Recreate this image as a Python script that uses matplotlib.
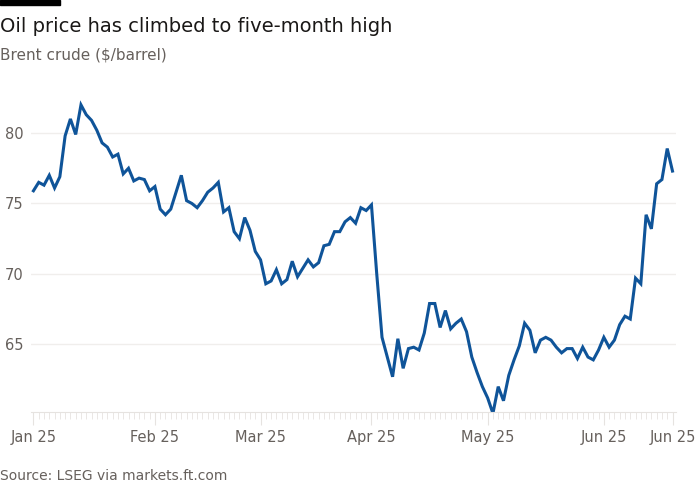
import numpy as np
import pandas as pd
import matplotlib.pyplot as plt

# Brent crude, $/barrel, one value per business day from 1 Jan 2025
brent = [
    75.9, 76.5, 76.3, 77.0, 76.1, 76.9, 79.8, 81.0, 79.9, 82.0,
    81.3, 80.9, 80.2, 79.3, 79.0, 78.3, 78.5, 77.1, 77.5, 76.6,
    76.8, 76.7, 75.9, 76.2, 74.6, 74.2, 74.6, 75.8, 77.0, 75.2,
    75.0, 74.7, 75.2, 75.8, 76.1, 76.5, 74.4, 74.7, 73.0, 72.5,
    74.0, 73.1, 71.6, 71.0, 69.3, 69.5, 70.3, 69.3, 69.6, 70.9,
    69.8, 70.4, 71.0, 70.5, 70.8, 72.0, 72.1, 73.0, 73.0, 73.7,
    74.0, 73.6, 74.7, 74.5, 74.9, 70.0, 65.5, 64.1, 62.7, 65.4,
    63.3, 64.7, 64.8, 64.6, 65.8, 67.9, 67.9, 66.2, 67.4, 66.1,
    66.5, 66.8, 65.9, 64.1, 63.0, 62.0, 61.2, 60.1, 62.0, 61.0,
    62.8, 63.9, 64.9, 66.5, 66.0, 64.4, 65.3, 65.5, 65.3, 64.8,
    64.4, 64.7, 64.7, 64.0, 64.8, 64.1, 63.9, 64.6, 65.5, 64.8,
    65.3, 66.4, 67.0, 66.8, 69.7, 69.3, 74.2, 73.2, 76.4, 76.7,
    78.9, 77.3,
]
y_ticks = [65, 70, 75, 80]

dates = pd.bdate_range("2025-01-01", periods=len(brent))
x = np.arange(len(brent))

# ticks at the first trading day of each month, plus the last day
month_idx = [i for i in range(len(dates)) if i == 0 or dates[i].month != dates[i - 1].month]
tick_idx = month_idx + [len(dates) - 1]
tick_labels = [dates[i].strftime("%b %y") for i in tick_idx]

fig = plt.figure(figsize=(7, 5), dpi=100, facecolor="white")
ax = fig.add_axes([0.044, 0.176, 0.922, 0.634])

ax.plot(x, brent, color="#0f5499", linewidth=2.2, solid_joinstyle="miter")

ax.set_xlim(-0.5, len(brent) - 0.3)
ax.set_ylim(60.2, 82.7)
ax.set_yticks(y_ticks)
ax.set_xticks(tick_idx)
ax.set_xticklabels(tick_labels)
ax.set_xticks(x, minor=True)

ax.grid(axis="y", color="#f0eeec", linewidth=1)
for s in ["top", "right", "left"]:
    ax.spines[s].set_visible(False)
ax.spines["bottom"].set_color("#e6e3e0")
ax.tick_params(axis="y", length=0, labelsize=10.5, labelcolor="#66605c", pad=5)
ax.tick_params(axis="x", which="major", length=9, color="#e6e3e0", labelsize=10.5,
               labelcolor="#66605c", pad=4)
ax.tick_params(axis="x", which="minor", length=5, color="#e6e3e0")

fig.patches.append(plt.Rectangle((0, 0.99), 0.085, 0.01, transform=fig.transFigure,
                                 color="black"))
fig.text(0.0, 0.947, "Oil price has climbed to five-month high", fontsize=14,
         color="#1a1817", va="center")
fig.text(0.0, 0.89, "Brent crude ($/barrel)", fontsize=11, color="#66605c", va="center")
fig.text(0.0, 0.048, "Source: LSEG via markets.ft.com", fontsize=10, color="#66605c",
         va="center")

fig.savefig("out.png", dpi=100, facecolor="white")
